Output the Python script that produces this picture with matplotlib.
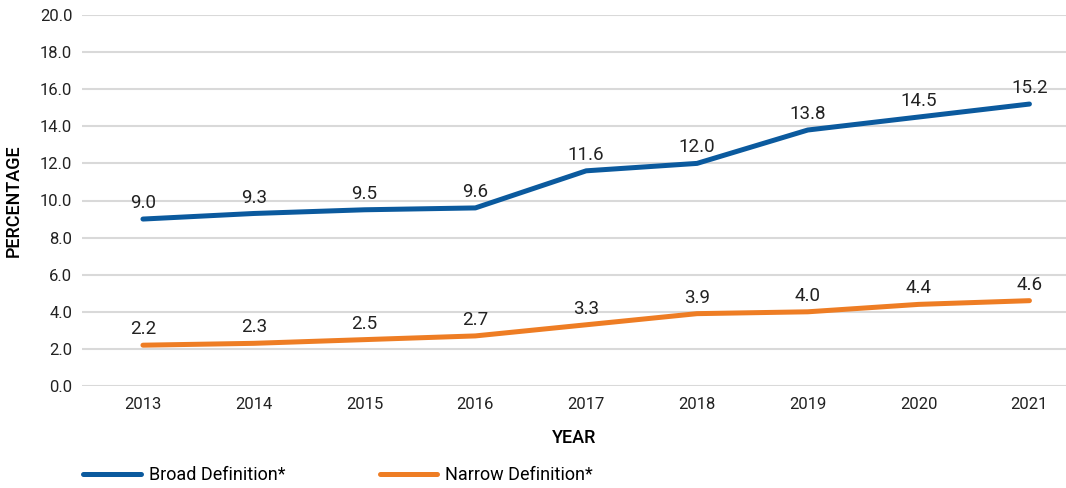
import matplotlib.pyplot as plt

plt.rcParams['font.family'] = ['Roboto', 'DejaVu Sans']

years = ['2013', '2014', '2015', '2016', '2017', '2018', '2019', '2020', '2021']
broad = [9.0, 9.3, 9.5, 9.6, 11.6, 12.0, 13.8, 14.5, 15.2]
narrow = [2.2, 2.3, 2.5, 2.7, 3.3, 3.9, 4.0, 4.4, 4.6]

blue = '#0B5A9E'
orange = '#EE7D24'

fig = plt.figure(figsize=(10.66, 4.88), dpi=100)
ax = fig.add_axes([82 / 1066, 1 - 386 / 488, 1 - 82 / 1066, (386 - 15) / 488])

x = list(range(len(years)))
ax.plot(x, broad, color=blue, lw=3.6, solid_capstyle='round', label='Broad Definition*', zorder=3)
ax.plot(x, narrow, color=orange, lw=3.6, solid_capstyle='round', label='Narrow Definition*', zorder=3)

for xi, v in zip(x, broad):
    ax.annotate('{:.1f}'.format(v), (xi, v), xytext=(0, 5), textcoords='offset points',
                ha='center', va='bottom', fontsize=13.5, color='#222222')
for xi, v in zip(x, narrow):
    ax.annotate('{:.1f}'.format(v), (xi, v), xytext=(0, 5), textcoords='offset points',
                ha='center', va='bottom', fontsize=13.5, color='#222222')

ax.set_ylim(0, 20)
ax.set_xlim(-0.55, 8.33)
ax.set_yticks([i * 2 for i in range(11)])
ax.set_yticklabels(['{:.1f}'.format(i * 2) for i in range(11)])
ax.set_xticks(x)
ax.set_xticklabels(years)
ax.tick_params(length=0, labelsize=12, labelcolor='#222222')
ax.tick_params(axis='y', pad=7)
ax.tick_params(axis='x', pad=8)
ax.grid(axis='y', color='#d9d9d9', lw=1.5)
ax.set_axisbelow(True)
for s in ax.spines.values():
    s.set_visible(False)

ax.set_xlabel('YEAR', fontsize=13, fontweight='medium', labelpad=12)
ax.set_ylabel('PERCENTAGE', fontsize=13, fontweight='medium', labelpad=12)

fig.legend(loc='center left', bbox_to_anchor=(76 / 1066, 13 / 488), ncol=2, frameon=False,
           fontsize=13, handlelength=3.2, handletextpad=0.45, columnspacing=5.2,
           borderaxespad=0)

fig.savefig('out.png', dpi=100)
